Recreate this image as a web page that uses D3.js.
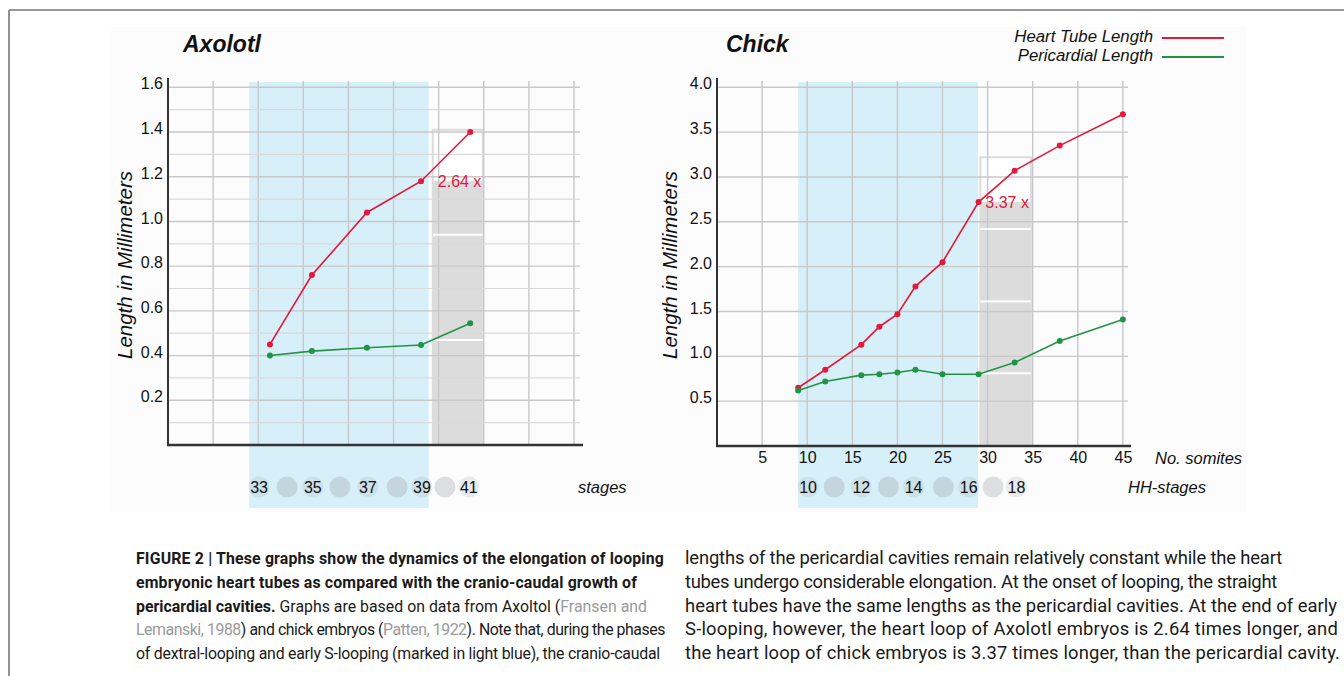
<!DOCTYPE html>
<html><head><meta charset="utf-8">
<script src="https://cdn.jsdelivr.net/npm/d3@7"></script>
<style>body{margin:0;background:#fff;} svg{display:block;}</style>
</head><body>
<svg id="c" width="1344" height="676"></svg>
<script>
// ---------- DATA ----------
// Axolotl (x = position along the developmental time axis, in grid units)
const axolotlX = [2.26, 3.19, 4.41, 5.61, 6.70];
const axolotlHeart = [0.45, 0.76, 1.04, 1.18, 1.40];
const axolotlPeri = [0.40, 0.42, 0.435, 0.447, 0.545];
const axolotlYTicks = [0.2, 0.4, 0.6, 0.8, 1.0, 1.2, 1.4, 1.6];
const axolotlStages = [33, 34, 35, 36, 37, 38, 39, 40, 41];
const axolotlStageX = [2.02, 2.64, 3.21, 3.81, 4.43, 5.08, 5.63, 6.14, 6.67];
const axolotlLoopPhase = [1.8, 5.78];
const axolotlRatioBarX = [5.87, 6.98];
const axolotlRatioSegments = [0.47, 0.94, 1.41];
const axolotlRatioLabel = "2.64 x";
const axolotlEndIndex = 3;

// Chick
const chickSomites = [9, 12, 16, 18, 20, 22, 25, 29, 33, 38, 45];
const chickHeart = [0.65, 0.85, 1.13, 1.33, 1.47, 1.78, 2.05, 2.72, 3.07, 3.35, 3.70];
const chickPeri = [0.62, 0.72, 0.79, 0.80, 0.82, 0.85, 0.80, 0.80, 0.93, 1.17, 1.41];
const chickYTicks = [0.5, 1.0, 1.5, 2.0, 2.5, 3.0, 3.5, 4.0];
const chickXTicks = [5, 10, 15, 20, 25, 30, 35, 40, 45];
const hhStages = [10, 11, 12, 13, 14, 15, 16, 17, 18];
const hhStageSomites = [10.1, 13.0, 16.0, 19.0, 21.8, 25.1, 27.9, 30.6, 33.2];
const chickLoopPhase = [9.0, 28.95];
const chickRatioBarX = [29.2, 34.8];
const chickRatioSegments = [0.81, 1.61, 2.42, 3.22];
const chickRatioLabel = "3.37 x";
const chickEndIndex = 7;

const seriesNames = ["Heart Tube Length", "Pericardial Length"];

// ---------- STYLE ----------
const RED = "#e2183c", GREEN = "#1f9446", BLUE = "#d7eff8";
const GRID = "#c8c8c8", GRID_MINOR = "#dadada", AXIS = "#333";
const FONT = "'Liberation Sans', Arial, Helvetica, sans-serif";

const svg = d3.select("#c");
svg.append("rect").attr("width", 1344).attr("height", 676).attr("fill", "#fff");
svg.append("rect").attr("x", 110).attr("y", 27).attr("width", 1137).attr("height", 485).attr("fill", "#fcfcfc");
// frame
svg.append("line").attr("x1", 9).attr("x2", 1344).attr("y1", 10).attr("y2", 10).attr("stroke", "#777").attr("stroke-width", 1.6);
svg.append("line").attr("x1", 9).attr("x2", 9).attr("y1", 10).attr("y2", 676).attr("stroke", "#777").attr("stroke-width", 1.6);

function panel(cfg) {
  const g = svg.append("g");
  const x = d3.scaleLinear().domain(cfg.xDomain).range(cfg.xRange);
  const y = d3.scaleLinear().domain(cfg.yDomain).range([cfg.y0, cfg.yTop]);
  const gridTop = 81;

  // loop-phase band
  g.append("rect").attr("x", x(cfg.loop[0])).attr("y", 82)
    .attr("width", x(cfg.loop[1]) - x(cfg.loop[0])).attr("height", 508 - 82).attr("fill", BLUE);

  // ratio bar
  const bx0 = x(cfg.barX[0]), bx1 = x(cfg.barX[1]);
  const segTop = cfg.segments[cfg.segments.length - 1];
  const fillTop = cfg.heart[cfg.endIndex];
  g.append("rect").attr("x", bx0).attr("y", y(segTop)).attr("width", bx1 - bx0)
    .attr("height", cfg.y0 - y(segTop)).attr("fill", "#fff").attr("stroke", "#dcdcdc").attr("stroke-width", 2);
  g.append("rect").attr("x", bx0).attr("y", y(fillTop)).attr("width", bx1 - bx0)
    .attr("height", cfg.y0 - y(fillTop)).attr("fill", "#dcdcdc");

  // grid
  g.selectAll(".vg").data(cfg.xGrid).join("line")
    .attr("x1", d => x(d)).attr("x2", d => x(d)).attr("y1", gridTop).attr("y2", cfg.y0)
    .attr("stroke", GRID).attr("stroke-width", 1.4);
  if (cfg.minor) {
    g.selectAll(".mg").data(cfg.minor).join("line")
      .attr("x1", cfg.xRange[0]).attr("x2", cfg.gridRight).attr("y1", d => y(d)).attr("y2", d => y(d))
      .attr("stroke", GRID_MINOR).attr("stroke-width", 1.2);
  }
  g.selectAll(".hg").data(cfg.yTicks).join("line")
    .attr("x1", cfg.xRange[0]).attr("x2", cfg.gridRight).attr("y1", d => y(d)).attr("y2", d => y(d))
    .attr("stroke", GRID).attr("stroke-width", 1.4);

  // white segment dividers
  g.selectAll(".seg").data(cfg.segments.filter(s => s < fillTop)).join("line")
    .attr("x1", bx0).attr("x2", bx1).attr("y1", d => y(d)).attr("y2", d => y(d))
    .attr("stroke", "#fff").attr("stroke-width", 2);

  // axes lines
  g.append("line").attr("x1", cfg.xRange[0]).attr("x2", cfg.xRange[0]).attr("y1", 78).attr("y2", cfg.y0 + 1)
    .attr("stroke", AXIS).attr("stroke-width", 2);
  g.append("line").attr("x1", cfg.xRange[0] - 1).attr("x2", cfg.xRange[1]).attr("y1", cfg.y0).attr("y2", cfg.y0)
    .attr("stroke", AXIS).attr("stroke-width", 2.4);

  // y tick labels via d3 axis
  const ya = g.append("g").attr("transform", `translate(${cfg.xRange[0]},0)`)
    .call(d3.axisLeft(y).tickValues(cfg.yTicks).tickSize(0).tickPadding(5).tickFormat(d3.format(".1f")));
  ya.select(".domain").remove();
  ya.attr("font-family", FONT).attr("font-size", 16);
  ya.selectAll("text").attr("fill", "#111").attr("dy", "0.1em");

  // series
  const series = [[cfg.heart, RED], [cfg.peri, GREEN]];
  series.forEach(([vals, col]) => {
    const pts = vals.map((v, i) => [x(cfg.xs[i]), y(v)]);
    g.append("path").attr("d", d3.line()(pts)).attr("fill", "none").attr("stroke", col).attr("stroke-width", 1.6);
    g.selectAll(null).data(pts).join("circle").attr("cx", d => d[0]).attr("cy", d => d[1]).attr("r", 3).attr("fill", col);
  });

  // ratio label
  g.append("text").attr("x", bx0 + 5).attr("y", y(fillTop) + 6).text(cfg.ratioLabel)
    .attr("font-family", FONT).attr("font-size", 16).attr("fill", RED);

  // title
  g.append("text").attr("x", cfg.titleX).attr("y", 52).text(cfg.title)
    .attr("font-family", FONT).attr("font-size", 23).attr("font-weight", "bold").attr("font-style", "italic").attr("fill", "#111");

  // y axis title
  g.append("text").attr("transform", `translate(${cfg.yTitleX},265) rotate(-90)`).attr("text-anchor", "middle")
    .text("Length in Millimeters").attr("font-family", FONT).attr("font-size", 20.5).attr("font-style", "italic").attr("fill", "#111");

  // stage row
  const sg = g.append("g");
  sg.selectAll("circle").data(cfg.stages).join("circle")
    .attr("cx", (d, i) => x(cfg.stageX[i])).attr("cy", 487).attr("r", 10.5)
    .attr("fill", "#a0a5ab").attr("fill-opacity", (d, i) => i % 2 === 0 ? 0.2 : 0.34);
  sg.selectAll("text").data(cfg.stages.filter((d, i) => i % 2 === 0)).join("text")
    .attr("x", (d, i) => x(cfg.stageX[i * 2])).attr("y", 493).attr("text-anchor", "middle").text(d => d)
    .attr("font-family", FONT).attr("font-size", 16).attr("fill", "#111");
  g.append("text").attr("x", cfg.stageLabelX).attr("y", 493).text(cfg.stageLabel)
    .attr("font-family", FONT).attr("font-size", 16.5).attr("font-style", "italic").attr("fill", "#111");
  return {x, y, g};
}

const A = panel({
  xDomain: [0, 9.2], xRange: [168, 583], gridRight: 580, yDomain: [0, 1.6], y0: 445, yTop: 87.3,
  xGrid: d3.range(1, 10), yTicks: axolotlYTicks, minor: [0.1, 0.3, 0.5, 0.7, 0.9, 1.1, 1.3, 1.5],
  xs: axolotlX, heart: axolotlHeart, peri: axolotlPeri, loop: axolotlLoopPhase,
  barX: axolotlRatioBarX, segments: axolotlRatioSegments, endIndex: axolotlEndIndex, ratioLabel: axolotlRatioLabel,
  title: "Axolotl", titleX: 183, yTitleX: 132,
  stages: axolotlStages, stageX: axolotlStageX, stageLabel: "stages", stageLabelX: 578
});

const C = panel({
  xDomain: [0, 45.9], xRange: [717, 1131], gridRight: 1128, yDomain: [0, 4], y0: 446, yTop: 87.3,
  xGrid: chickXTicks, yTicks: chickYTicks, minor: null,
  xs: chickSomites, heart: chickHeart, peri: chickPeri, loop: chickLoopPhase,
  barX: chickRatioBarX, segments: chickRatioSegments, endIndex: chickEndIndex, ratioLabel: chickRatioLabel,
  title: "Chick", titleX: 726, yTitleX: 677,
  stages: hhStages, stageX: hhStageSomites, stageLabel: "HH-stages", stageLabelX: 1128
});

// chick x axis (somites)
const xa = C.g.append("g").attr("transform", "translate(0,446)")
  .call(d3.axisBottom(C.x).tickValues(chickXTicks).tickSize(0).tickPadding(6));
xa.select(".domain").remove();
xa.attr("font-family", FONT).attr("font-size", 16);
xa.selectAll("text").attr("fill", "#111");
C.g.append("text").attr("x", 1155).attr("y", 464).text("No. somites")
  .attr("font-family", FONT).attr("font-size", 16.5).attr("font-style", "italic").attr("fill", "#111");

// legend
const legend = svg.append("g");
seriesNames.forEach((name, i) => {
  const yy = 37 + i * 19;
  legend.append("text").attr("x", 1153).attr("y", yy + 5).attr("text-anchor", "end").text(name)
    .attr("font-family", FONT).attr("font-size", 16.8).attr("font-style", "italic").attr("fill", "#111");
  legend.append("line").attr("x1", 1162).attr("x2", 1224).attr("y1", yy + 1).attr("y2", yy + 1)
    .attr("stroke", i === 0 ? RED : GREEN).attr("stroke-width", 2);
});

// caption
const capLeft = [
  [["b", "FIGURE 2 | These graphs show the dynamics of the elongation of looping"]],
  [["b", "embryonic heart tubes as compared with the cranio-caudal growth of"]],
  [["b", "pericardial cavities."], ["n", " Graphs are based on data from Axoltol ("], ["g", "Fransen and"]],
  [["g", "Lemanski, 1988"], ["n", ") and chick embryos ("], ["g", "Patten, 1922"], ["n", "). Note that, during the phases"]],
  [["n", "of dextral-looping and early S-looping (marked in light blue), the cranio-caudal"]]
];
const capRight = [
  [["n", "lengths of the pericardial cavities remain relatively constant while the heart"]],
  [["n", "tubes undergo considerable elongation. At the onset of looping, the straight"]],
  [["n", "heart tubes have the same lengths as the pericardial cavities. At the end of early"]],
  [["n", "S-looping, however, the heart loop of Axolotl embryos is 2.64 times longer, and"]],
  [["n", "the heart loop of chick embryos is 3.37 times longer, than the pericardial cavity."]]
];
const leftWidths = [528, 501, 511, 529, 524];
const rightWidths = [597, 592, 652, 653, 655];
const baselines = [564, 588, 611.5, 635, 658.5];
function caption(lines, x0, widths, fam) {
  const texts = lines.map((segs, i) => {
    const t = svg.append("text").attr("x", x0).attr("y", baselines[i])
      .attr("font-family", fam).attr("font-size", 17);
    segs.forEach(([k, s]) => {
      t.append("tspan").text(s).attr("font-weight", k === "b" ? "bold" : "normal")
        .attr("fill", k === "g" ? "#9a9a9a" : "#1a1a1a");
    });
    return t;
  });
  // common font size for the column, then letter-spacing to match each line's width
  const ratios = texts.map((t, i) => widths[i] / t.node().getComputedTextLength());
  const fs = 17 * d3.median(ratios);
  texts.forEach((t, i) => {
    t.attr("font-size", fs);
    const w = t.node().getComputedTextLength();
    const n = t.text().length;
    t.attr("letter-spacing", ((widths[i] - w) / n).toFixed(3));
  });
}
caption(capLeft, 136, leftWidths, "'Liberation Sans Narrow', 'Roboto', sans-serif");
caption(capRight, 685, rightWidths, "'Liberation Sans Narrow', 'Roboto', sans-serif");
</script>
</body></html>
